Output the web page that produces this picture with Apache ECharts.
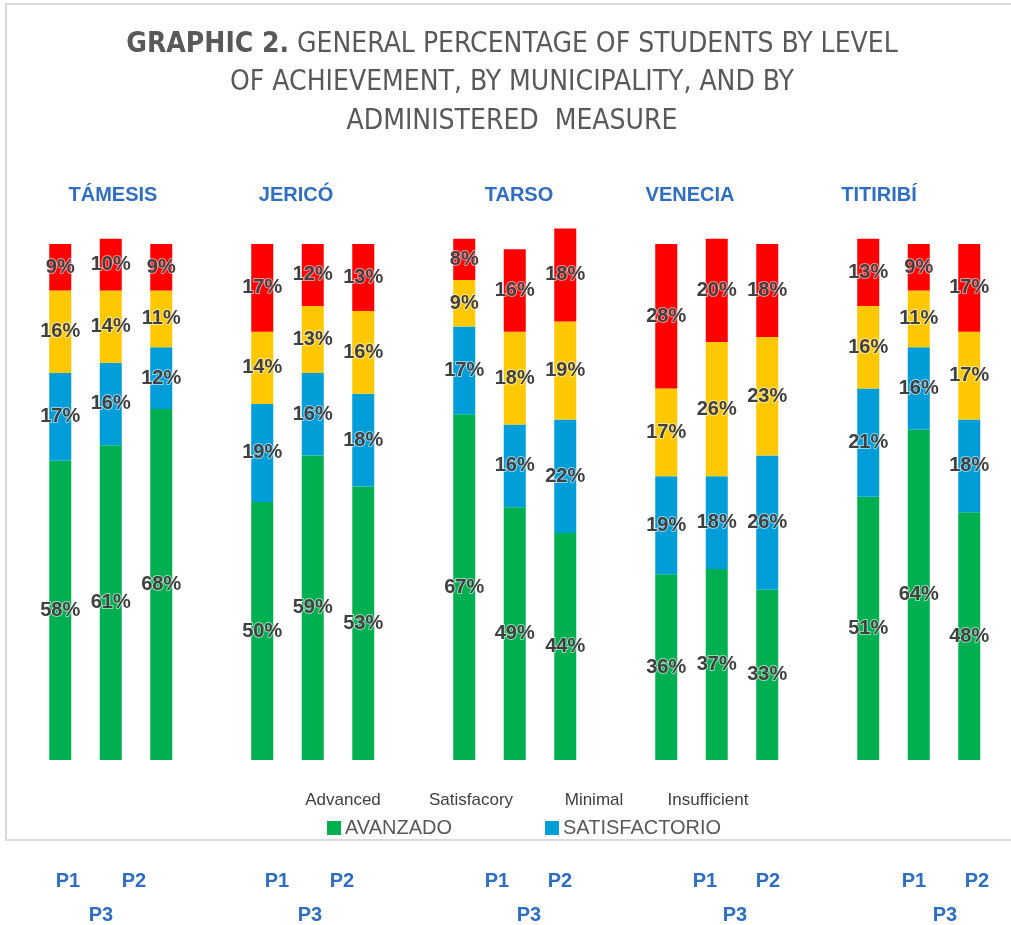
<!DOCTYPE html>
<html>
<head>
<meta charset="utf-8">
<script src="https://cdn.jsdelivr.net/npm/echarts@6/dist/echarts.min.js"></script>
<style>
  html, body { margin: 0; padding: 0; background: #ffffff; }
  #chart { width: 1011px; height: 925px; }
</style>
</head>
<body>
<div id="chart"></div>
<script>
// Municipalities and the order of the administered measures within each group
const municipalities = ['TÁMESIS', 'JERICÓ', 'TARSO', 'VENECIA', 'TITIRIBÍ'];
const measures = ['P1', 'P3', 'P2'];

// Percentage of students per level of achievement, 3 bars per municipality
const avanzado      = [58, 61, 68,  50, 59, 53,  67, 49, 44,  36, 37, 33,  51, 64, 48];
const satisfactorio = [17, 16, 12,  19, 16, 18,  17, 16, 22,  19, 18, 26,  21, 16, 18];
const minimo        = [16, 14, 11,  14, 13, 16,   9, 18, 19,  17, 26, 23,  16, 11, 17];
const insuficiente  = [ 9, 10,  9,  17, 12, 13,   8, 16, 18,  28, 20, 18,  13,  9, 17];

// English level names shown above the legend
const levelNames = ['Advanced', 'Satisfacory', 'Minimal', 'Insufficient'];

// Build the category axis: 3 measures per municipality, with an empty slot between groups
const categories = [];
const slotIndex = [];
municipalities.forEach((m, gi) => {
  measures.forEach(p => { slotIndex.push(categories.length); categories.push(m + ' ' + p); });
  if (gi < municipalities.length - 1) categories.push('');
});
function spread(values) {
  const out = categories.map(() => '-');
  values.forEach((v, i) => { out[slotIndex[i]] = v; });
  return out;
}

const labelStyle = {
  show: true,
  position: 'inside',
  formatter: '{c}%',
  fontFamily: 'Liberation Sans, Arial, sans-serif',
  fontWeight: 'bold',
  fontSize: 20,
  color: '#404040',
  textBorderColor: 'rgba(255,255,255,0.55)',
  textBorderWidth: 2
};

function barSeries(name, values, color) {
  return {
    name: name,
    type: 'bar',
    stack: 'levels',
    barWidth: 22,
    data: spread(values),
    itemStyle: { color: color },
    label: labelStyle,
    emphasis: { disabled: true },
    silent: true
  };
}

const blue = '#2F6EC0';
const nameFont = 'bold 20px "Liberation Sans", Arial, sans-serif';

// Municipality headings and measure labels
const headingX = [113, 296, 519, 690, 879];
const measureX = { P1: [68, 277, 497, 705, 914], P2: [134, 342, 560, 768, 977], P3: [101, 310, 529, 735, 945] };
const measureY = { P1: 881, P2: 881, P3: 915 };
const levelX = [343, 471, 594, 708];

const graphics = [
  {
    type: 'rect', silent: true,
    shape: { x: 6, y: 4, width: 1010, height: 836 },
    style: { fill: 'none', stroke: '#d9d9d9', lineWidth: 2 }
  },
  {
    type: 'text', silent: true,
    style: {
      x: 512, y: 83, align: 'center', verticalAlign: 'middle',
      text: '{b|GRAPHIC 2.} GENERAL PERCENTAGE OF STUDENTS BY LEVEL\nOF ACHIEVEMENT, BY MUNICIPALITY, AND BY\nADMINISTERED  MEASURE',
      font: '28px "Liberation Sans Narrow", "DejaVu Sans Condensed", sans-serif',
      fill: '#595959',
      lineHeight: 38.5,
      rich: {
        b: { font: 'bold 28px "Liberation Sans Narrow", "DejaVu Sans Condensed", sans-serif', fill: '#595959', lineHeight: 38.5 }
      }
    }
  }
];
municipalities.forEach((m, i) => {
  graphics.push({
    type: 'text', silent: true,
    style: { x: headingX[i], y: 195, align: 'center', verticalAlign: 'middle', text: m, font: nameFont, fill: blue }
  });
  measures.forEach(p => {
    graphics.push({
      type: 'text', silent: true,
      style: { x: measureX[p][i], y: measureY[p], align: 'center', verticalAlign: 'middle', text: p, font: nameFont, fill: blue }
    });
  });
});
levelNames.forEach((t, i) => {
  graphics.push({
    type: 'text', silent: true,
    style: { x: levelX[i], y: 800, align: 'center', verticalAlign: 'middle', text: t,
      font: '17px "Liberation Sans", Arial, sans-serif', fill: '#404040' }
  });
});

const legendCommon = {
  top: 813,
  itemWidth: 14,
  itemHeight: 14,
  itemGap: 5,
  icon: 'rect',
  selectedMode: false,
  textStyle: { fontFamily: 'Liberation Sans, Arial, sans-serif', fontSize: 20, color: '#595959', padding: [0, 0, 0, -1] }
};

const chart = echarts.init(document.getElementById('chart'), null, { renderer: 'canvas' });
chart.setOption({
  backgroundColor: '#ffffff',
  animation: false,
  grid: { left: 35, right: 16.5, top: 192.4, bottom: 165 },
  xAxis: {
    type: 'category',
    data: categories,
    show: false
  },
  yAxis: {
    type: 'value',
    min: 0,
    max: 110,
    show: false
  },
  legend: [
    Object.assign({ left: 322, data: ['AVANZADO'] }, legendCommon),
    Object.assign({ left: 540, data: ['SATISFACTORIO'] }, legendCommon)
  ],
  series: [
    barSeries('AVANZADO', avanzado, '#00B050'),
    barSeries('SATISFACTORIO', satisfactorio, '#009ED8'),
    barSeries('MÍNIMO', minimo, '#FFC800'),
    barSeries('INSUFICIENTE', insuficiente, '#FF0000')
  ],
  graphic: graphics
});
</script>
</body>
</html>
